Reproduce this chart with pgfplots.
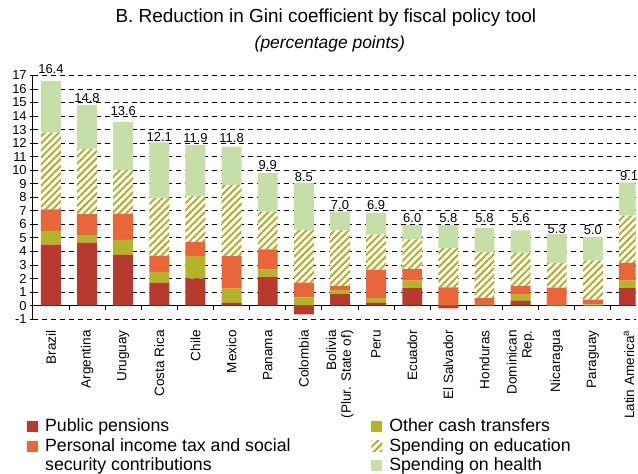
\documentclass[border=0pt]{standalone}
\usepackage{fontspec}
\setmainfont{Liberation Sans}
\usepackage{pgfplots}
\pgfplotsset{compat=1.18}
\usepackage{pgfplotstable}
\usetikzlibrary{patterns.meta}

\definecolor{pens}{RGB}{184,58,46}
\definecolor{tax}{RGB}{232,102,58}
\definecolor{oth}{RGB}{180,180,42}
\definecolor{edu}{RGB}{178,174,40}
\definecolor{hea}{RGB}{198,223,169}

\pgfplotstableread{
x  neg   pens  oth   tax   edu   hea   lab   ly
0  0     4.5   1.0   1.6   5.7   3.8   16.4  17.10
1  0     4.65  0.55  1.55  4.8   3.25  14.8  15.01
2  0     3.75  1.1   1.95  3.2   3.55  13.6  13.98
3  0     1.7   0.8   1.2   4.25  4.1   12.1  12.07
4  0     2.0   1.65  1.05  3.4   3.75  11.9  12.02
5  0     0.2   1.05  2.4   5.25  2.85  11.8  12.02
6  0     2.1   0.55  1.5   2.8   2.85  9.9   10.06
7  -0.65 0     0.6   1.1   3.9   3.45  8.5   9.15
8  0     0.85  0.3   0.3   4.1   1.4   7.0   7.06
9  0     0.2   0.35  2.1   2.6   1.6   6.9   7.06
10 0     1.3   0.55  0.85  2.2   1.05  6.0   6.09
11 -0.2  0     0.05  1.3   2.9   1.7   5.8   6.09
12 0     0     0     0.55  3.4   1.8   5.8   6.09
13 0     0.35  0.5   0.6   2.45  1.65  5.6   6.09
14 0     0     0.03  1.3   1.8   2.15  5.3   5.28
15 0     0     0.1   0.35  2.9   1.7   5.0   5.20
16 0     1.3   0.55  1.3   3.5   2.45  9.1   9.20
}\data

\pgfplotsset{sqleg/.style={legend image code/.code={\path[##1] (0pt,-5.5pt) rectangle (11pt,5.5pt);}}}

\begin{document}
\begin{tikzpicture}[x=1pt,y=1pt]
\begin{axis}[
  width=605pt, height=258.2pt, scale only axis,
  xmin=-0.5, xmax=16.186, ymin=-1, ymax=18,
  ybar stacked, bar width=20pt,
  clip mode=individual,
  axis y line*=left, axis x line*=bottom,
  x axis line style={draw=none},
  y axis line style={draw=none},
  ytick={-1,0,...,17}, xtick={0,...,16},
  xticklabels={Brazil,Argentina,Uruguay,Costa Rica,Chile,Mexico,Panama,Colombia,{Bolivia\\(Plur. State of)},Peru,Ecuador,El Salvador,Honduras,{Dominican\\Rep.},Nicaragua,Paraguay,{Latin America\textsuperscript{a}}},
  xtick style={draw=none},
  ytick style={line width=0.9pt, black},
  tick align=outside, major tick length=3pt,
  ymajorgrids, grid style={black, line width=0.9pt, dash pattern=on 5pt off 4pt},
  yticklabel style={font=\fontsize{13}{15}\selectfont, inner sep=0pt, anchor=east, xshift=-3pt},
  xticklabel style={font=\fontsize{13.6}{15}\selectfont, yshift=-8pt, rotate=90, anchor=east, inner sep=0pt, align=right},
  /pgf/number format/assume math mode=true,
  title={B. Reduction in Gini coefficient by fiscal policy tool},
  title style={at={(axis description cs:0.486,1.1309)}, anchor=base, font=\fontsize{19}{22}\selectfont, inner sep=0pt},
  legend columns=2, legend cell align=left,
  legend style={at={(axis description cs:-0.00942,-0.3873)}, anchor=north west,
    draw=none, fill=none, inner sep=0pt, outer sep=0pt, row sep=3.8pt,
    font=\fontsize{17.8}{20}\selectfont,
    nodes={inner sep=0pt, text height=13pt, text depth=2.7pt},
    /tikz/every odd column/.style={column sep=7pt},
    /tikz/every even column/.style={column sep=81pt}},
]
\addplot[fill=pens, draw=none, forget plot] table[x=x,y=neg]{\data};
\addplot[fill=pens, draw=none, forget plot] table[x=x,y=pens]{\data};
\addplot[fill=oth, draw=none, forget plot] table[x=x,y=oth]{\data};
\addplot[fill=tax, draw=none, forget plot] table[x=x,y=tax]{\data};
\addplot[fill=white, draw=none, forget plot, postaction={pattern={Lines[angle=45,distance=5pt,line width=2pt]}, pattern color=edu}] table[x=x,y=edu]{\data};
\addplot[fill=hea, draw=none, forget plot] table[x=x,y=hea]{\data};

\addlegendimage{sqleg, fill=pens, draw=none}
\addlegendentry{Public pensions}
\addlegendimage{sqleg, fill=oth, draw=none}
\addlegendentry{Other cash transfers}
\addlegendimage{sqleg, fill=tax, draw=none}
\addlegendentry{Personal income tax and social}
\addlegendimage{sqleg, fill=white, draw=none, postaction={pattern={Lines[angle=45,distance=5pt,line width=2pt]}, pattern color=edu}}
\addlegendentry{Spending on education}
\addlegendimage{empty legend}
\addlegendentry{security contributions}
\addlegendimage{sqleg, fill=hea, draw=none}
\addlegendentry{Spending on health}

\draw[black, line width=1.2pt] (axis cs:-0.5,-1) -- (axis cs:-0.5,17);
\draw[black, line width=1.2pt] (axis cs:-0.55,0) -- (axis cs:16.186,0);
\pgfplotsinvokeforeach{0,...,15}{\draw[black, line width=0.9pt] (axis cs:#1.5,0) -- ++(0pt,-4pt);}
\node[anchor=base, font=\itshape\fontsize{17.5}{20}\selectfont, inner sep=0pt] at (rel axis cs:0.4926,1.0535) {(percentage points)};
\end{axis}
\begin{axis}[
  width=605pt, height=258.2pt, scale only axis,
  xmin=-0.5, xmax=16.186, ymin=-1, ymax=18,
  hide axis,
]
\addplot[draw=none, mark=none, nodes near coords, point meta=explicit symbolic,
  nodes near coords style={font=\fontsize{13}{15}\selectfont, anchor=south, inner sep=0pt, text=black}] table[x=x,y=ly,meta=lab]{\data};
\end{axis}
\path (-33,-154.7) rectangle (605,320.3);
\end{tikzpicture}
\end{document}
